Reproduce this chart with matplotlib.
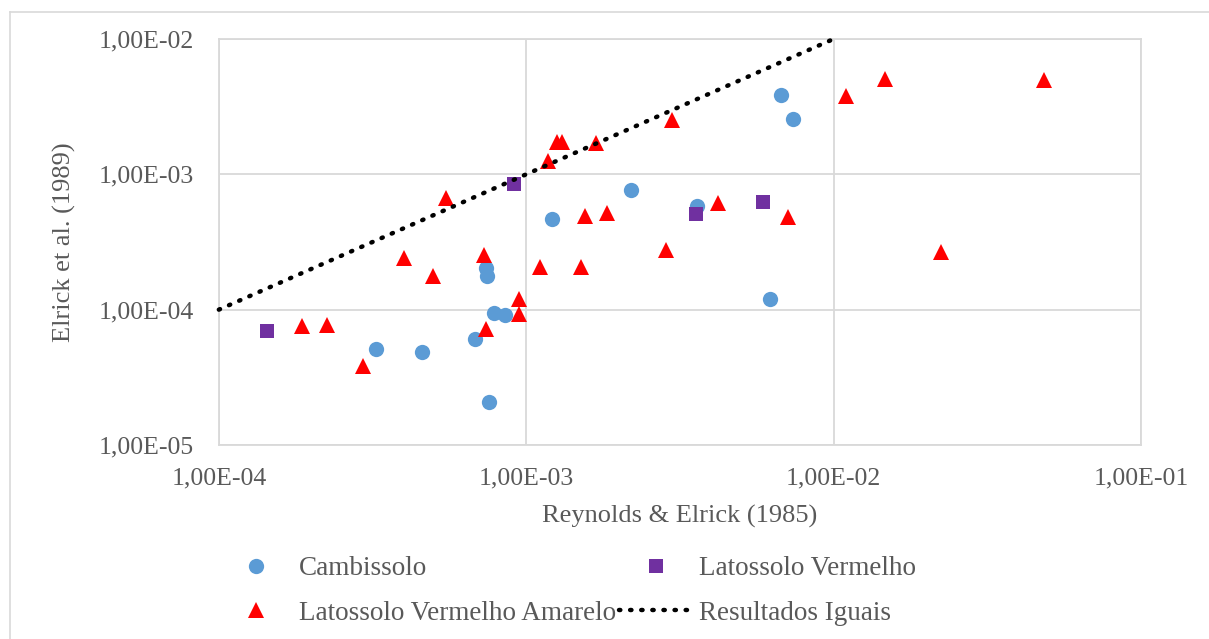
import numpy as np
import matplotlib.pyplot as plt
from matplotlib.lines import Line2D
from matplotlib.ticker import FixedLocator, FixedFormatter

plt.rcParams['font.family'] = ['Liberation Serif', 'DejaVu Serif']

# Cambissolo
camb_x = [3.24e-4, 4.58e-4, 6.80e-4, 7.39e-4, 7.47e-4, 7.83e-4, 8.52e-4, 7.56e-4,
          1.215e-3, 2.195e-3, 3.60e-3, 6.23e-3, 6.74e-3, 7.35e-3]
camb_y = [5.12e-5, 4.84e-5, 6.06e-5, 2.02e-4, 1.78e-4, 9.49e-5, 9.08e-5, 2.09e-5,
          4.67e-4, 7.66e-4, 5.83e-4, 1.197e-4, 3.86e-3, 2.58e-3]

# Latossolo Vermelho
lv_x = [1.438e-4, 9.14e-4, 3.57e-3, 5.89e-3]
lv_y = [6.95e-5, 8.52e-4, 5.11e-4, 6.27e-4]

# Latossolo Vermelho Amarelo
lva_x = [1.87e-4, 2.25e-4, 2.94e-4, 4.01e-4, 4.98e-4, 5.47e-4, 7.29e-4, 7.39e-4,
         9.47e-4, 9.49e-4, 1.108e-3, 1.506e-3, 1.552e-3, 1.834e-3, 2.85e-3, 4.22e-3,
         7.08e-3, 1.179e-3, 1.256e-3, 1.306e-3, 1.689e-3, 2.98e-3, 1.098e-2, 1.464e-2,
         2.23e-2, 4.83e-2]
lva_y = [7.57e-5, 7.66e-5, 3.83e-5, 2.39e-4, 1.77e-4, 6.65e-4, 2.53e-4, 7.15e-5,
         1.20e-4, 9.23e-5, 2.05e-4, 2.05e-4, 4.94e-4, 5.15e-4, 2.76e-4, 6.17e-4,
         4.86e-4, 1.254e-3, 1.74e-3, 1.74e-3, 1.71e-3, 2.52e-3, 3.81e-3, 5.04e-3,
         2.65e-4, 4.95e-3]

# 1:1 line
line_x = [1e-4, 1e-2]
line_y = [1e-4, 1e-2]

x_ticks = [1e-4, 1e-3, 1e-2, 1e-1]
x_labels = ['1,00E-04', '1,00E-03', '1,00E-02', '1,00E-01']
y_ticks = [1e-5, 1e-4, 1e-3, 1e-2]
y_labels = ['1,00E-05', '1,00E-04', '1,00E-03', '1,00E-02']

text_col = '#595959'
grid_col = '#D9D9D9'
fs = 18.5

fig = plt.figure(figsize=(12.09, 6.39), dpi=100)
ax = fig.add_axes([0.181, 0.3036, 0.9438 - 0.181, 0.939 - 0.3036])

h_camb, = ax.plot(camb_x, camb_y, 'o', color='#5B9BD5', markersize=11, markeredgewidth=0,
                  label='Cambissolo', zorder=3)
h_lv, = ax.plot(lv_x, lv_y, 's', color='#7030A0', markersize=10, markeredgewidth=0,
                label='Latossolo Vermelho', zorder=3)
h_lva, = ax.plot(lva_x, lva_y, '^', color='#FF0000', markersize=11, markeredgewidth=0,
                 label='Latossolo Vermelho Amarelo', zorder=3)
h_eq, = ax.plot(line_x, line_y, color='black', linewidth=3.2, dashes=(0.3, 2.2),
                dash_capstyle='round', label='Resultados Iguais', zorder=4, clip_on=False)

ax.set_xscale('log')
ax.set_yscale('log')
ax.set_xlim(1e-4, 1e-1)
ax.set_ylim(1e-5, 1e-2)
ax.xaxis.set_major_locator(FixedLocator(x_ticks))
ax.xaxis.set_major_formatter(FixedFormatter(x_labels))
ax.yaxis.set_major_locator(FixedLocator(y_ticks))
ax.yaxis.set_major_formatter(FixedFormatter(y_labels))
ax.xaxis.set_minor_locator(FixedLocator([]))
ax.yaxis.set_minor_locator(FixedLocator([]))
ax.tick_params(axis='both', length=0, labelsize=fs, labelcolor=text_col)
ax.tick_params(axis='x', pad=16)
ax.tick_params(axis='y', pad=18)
ax.grid(True, color=grid_col, linewidth=1.3)
for s in ax.spines.values():
    s.set_color(grid_col)
    s.set_linewidth(1.3)

ax.set_xlabel('Reynolds & Elrick (1985)', fontsize=19, color=text_col, labelpad=11)
ax.set_ylabel('Elrick et al. (1989)', fontsize=19, color=text_col, labelpad=16)

# column-major order so rows read Camb / LV, then LVA / Resultados
handles = [h_camb, h_lva, h_lv, h_eq]
leg = fig.legend(handles=handles, labels=[h.get_label() for h in handles],
                 loc='upper left', bbox_to_anchor=(219 / 1209, 1 - 556 / 639),
                 ncol=2, frameon=False, fontsize=19.5, handlelength=2.7,
                 handletextpad=0.25, columnspacing=0.12, labelspacing=0.72,
                 borderaxespad=0, borderpad=0)
for t in leg.get_texts():
    t.set_color(text_col)

# outer chart border
fig.add_artist(Line2D([10 / 1209, 1], [1 - 12 / 639] * 2, color=grid_col, linewidth=1.2))
fig.add_artist(Line2D([10 / 1209] * 2, [0, 1 - 12 / 639], color=grid_col, linewidth=1.2))

fig.savefig('out.png', dpi=100, facecolor='white')
